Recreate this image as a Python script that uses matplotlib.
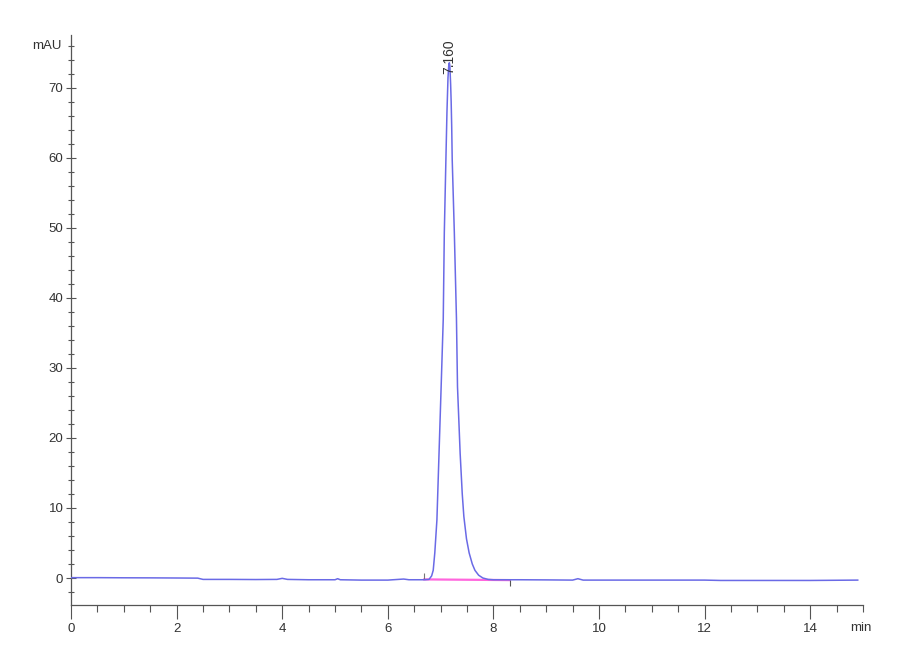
import numpy as np
import matplotlib
matplotlib.use("Agg")
import matplotlib.pyplot as plt

plt.rcParams['font.family'] = ['Liberation Sans', 'DejaVu Sans']

# Chromatogram trace (time in min, signal in mAU)
t = [0.0, 0.5, 1.0, 1.5, 2.0, 2.4, 2.5, 3.0, 3.5, 3.9, 4.0, 4.1, 4.5,
     5.0, 5.05, 5.1, 5.5, 6.0, 6.3, 6.4, 6.7, 6.78,
     6.83, 6.86, 6.89, 6.93, 6.97, 7.01, 7.05, 7.07, 7.10, 7.12, 7.13,
     7.14, 7.155, 7.165, 7.175, 7.19, 7.20, 7.21, 7.22, 7.26, 7.30, 7.32,
     7.37, 7.41, 7.44, 7.49, 7.54, 7.60, 7.65, 7.72, 7.80, 7.90,
     8.0, 8.5, 9.0, 9.5, 9.6, 9.7, 10.0, 11.0, 12.0, 12.3, 13.0, 14.0, 14.9]
signal = [0.05, 0.05, 0.03, 0.02, 0.0, -0.02, -0.2, -0.2, -0.22, -0.2,
          -0.05, -0.2, -0.25, -0.25, -0.1, -0.25, -0.3, -0.3, -0.15, -0.25,
          -0.25, -0.2,
          0.3, 1.1, 3.6, 8.3, 17.8, 27.3, 37.0, 49.3, 59.7, 66.5, 69.0,
          71.5, 73.3, 73.6, 73.2, 70.5, 68.0, 64.5, 59.7, 49.3, 37.1, 27.3,
          17.8, 12.0, 8.8, 5.6, 3.6, 2.0, 1.1, 0.4, 0.0, -0.2,
          -0.25, -0.25, -0.27, -0.3, -0.1, -0.3, -0.3, -0.3, -0.3, -0.35,
          -0.35, -0.35, -0.3]

# integration baseline and peak label
base_t = [6.69, 8.31]
base_y = [-0.2, -0.3]
peak_rt = 7.160
peak_label = "7.160"

fig = plt.figure(figsize=(9, 6.6), dpi=100)
ax = fig.add_axes([0.0789, 0.0833, 0.88, 0.8637])

ax.plot(base_t, base_y, color='#ff66dd', lw=1.6, zorder=2)
ax.vlines(base_t[0], base_y[0], base_y[0] + 0.9, color='#777777', lw=0.8)
ax.vlines(base_t[1], base_y[1] - 0.9, base_y[1], color='#555555', lw=0.8)
ax.plot(t, signal, color='#6a6ae6', lw=1.1, zorder=3)

ax.text(peak_rt, 72.0, peak_label, rotation=90, ha='center', va='bottom',
        fontsize=10, color='#333333', clip_on=False)

ax.set_xlim(0, 15)
ax.set_ylim(-3.86, 77.57)
ax.set_xticks(np.arange(0, 15, 2))
ax.set_xticks(np.arange(0, 15.01, 0.5), minor=True)
ax.set_yticks(np.arange(0, 71, 10))
ax.set_yticks(np.arange(-2, 77, 2), minor=True)

for side in ['top', 'right']:
    ax.spines[side].set_visible(False)
for side in ['left', 'bottom']:
    ax.spines[side].set_color('#555555')
    ax.spines[side].set_linewidth(0.9)

ax.tick_params(axis='x', which='major', direction='out', length=10,
               width=0.8, color='#555555', labelsize=9.5, labelcolor='#333333',
               pad=3)
ax.tick_params(axis='x', which='minor', direction='out', length=5,
               width=0.8, color='#555555')
ax.tick_params(axis='y', which='major', direction='inout', length=7,
               width=0.8, color='#555555', labelsize=9.5, labelcolor='#333333',
               pad=2)
ax.tick_params(axis='y', which='minor', direction='inout', length=5,
               width=0.8, color='#555555')

# unit labels at the axis ends
ax.text(-0.012, 76, "mAU", transform=ax.get_yaxis_transform(),
        ha='right', va='center', fontsize=9.5, color='#333333')
ax.text(14.75, -0.03, "min", transform=ax.get_xaxis_transform(),
        ha='left', va='top', fontsize=9.5, color='#333333')

fig.savefig("out.png", dpi=100)
